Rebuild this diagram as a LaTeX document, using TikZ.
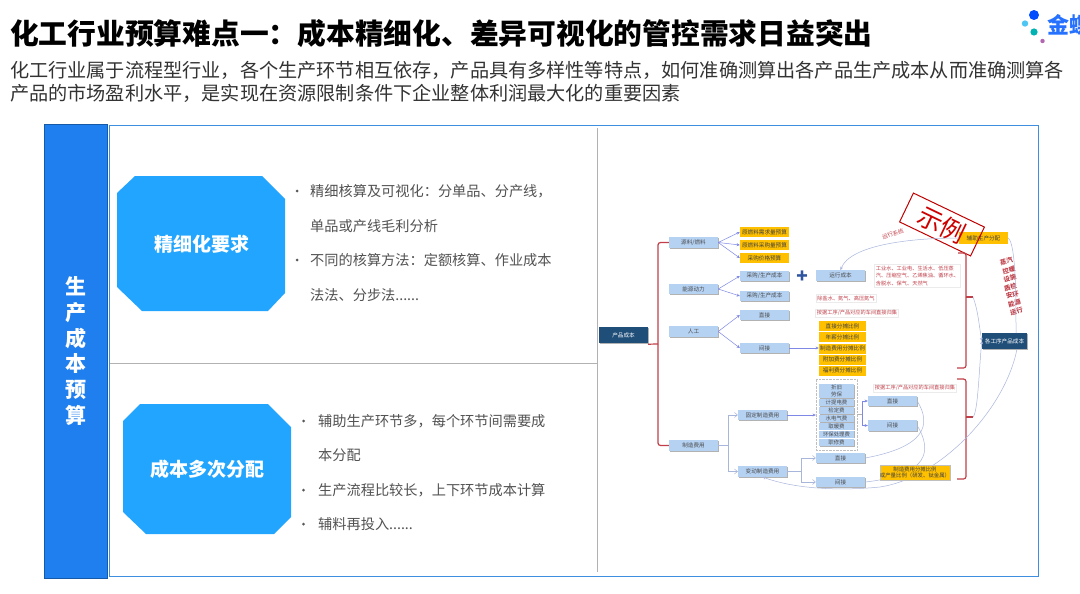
\documentclass[tikz,border=0pt]{standalone}
\usepackage{fontspec}
\setmainfont{Noto Sans CJK SC}
\usepackage{xcolor}
\usetikzlibrary{arrows.meta,shadows}
\definecolor{barblue}{HTML}{1F7FEE}
\definecolor{framblue}{HTML}{3F8FE0}
\definecolor{octblue}{HTML}{22A5FF}
\definecolor{paleblue}{HTML}{B5D2F3}
\definecolor{navyblue}{HTML}{1F4E79}
\definecolor{ambery}{HTML}{FFC000}
\definecolor{brickred}{HTML}{C0404A}
\definecolor{linkblue}{HTML}{A9B6DC}
\definecolor{plusblue}{HTML}{2F55A0}
\newcommand{\fs}[1]{\fontsize{#1}{#1}\selectfont}
\newcommand{\sixdots}{.\kern0pt.\kern0pt.\kern0pt.\kern0pt.\kern0pt.}

\begin{document}
\begin{tikzpicture}[
  x=1pt, y=-1pt,
  >={Stealth[length=3.2pt,width=3pt]},
  bluebox/.style={
    rectangle, fill=paleblue, inner sep=0pt, text=black!70,
    minimum width=49pt, minimum height=10.5pt, font=\fs{5.6},
    drop shadow={shadow xshift=0.7pt,shadow yshift=-0.9pt,fill=black!60,opacity=.5}
  },
  feebox/.style={bluebox, minimum width=35pt, minimum height=7pt, font=\fs{5.4}},
  navybox/.style={
    rectangle, fill=navyblue, inner sep=0pt, text=white, font=\fs{5.6},
    drop shadow={shadow xshift=0.7pt,shadow yshift=-0.9pt,fill=black!60,opacity=.5}
  },
  ambbox/.style={
    rectangle, fill=ambery, inner sep=0pt, text=black!75,
    minimum width=49pt, minimum height=10pt, font=\fs{5.6}
  },
  ratbox/.style={ambbox, minimum width=47pt},
  redbox/.style={
    rectangle, draw=black!8, fill=white, inner sep=1.5pt, text=brickred,
    font=\fontsize{5.2}{7.6}\selectfont, align=left
  },
  octfill/.style={fill=octblue},
  octtext/.style={inner sep=0pt, text=white, font=\fs{19}\bfseries},
  note/.style={anchor=west, inner sep=0pt, text=black!68, font=\fs{14.2}},
  tree/.style={->, line width=0.5pt, color=linkblue!75!blue},
  elbow/.style={-{Straight Barb[length=3pt,width=5pt]}, line width=0.5pt, color=linkblue},
  loopy/.style={line width=0.5pt, color=linkblue},
  brace/.style={line width=1.2pt, color=brickred, rounded corners=2.5pt}
]
\useasboundingbox (0,0) rectangle (1080,594);
\fill[white] (0,0) rectangle (1080,594);

% Title and intro
\node[anchor=west, inner sep=0pt, font=\fs{28.75}\bfseries] (title) at (10,34)
  {化工行业预算难点一：成本精细化、差异可视化的管控需求日益突出};
\node[anchor=west, inner sep=0pt, text=black!80, font=\fs{19.16}] (introa) at (10,70)
  {化工行业属于流程型行业，各个生产环节相互依存，产品具有多样性等特点，如何准确测算出各产品生产成本从而准确测算各};
\node[anchor=west, inner sep=0pt, text=black!80, font=\fs{19.16}] (introb) at (10,93)
  {产品的市场盈利水平，是实现在资源限制条件下企业整体利润最大化的重要因素};

% Logo
\fill[blue!70!cyan] (1034,15) circle (5);
\fill[cyan!70!white] (1025,23.5) circle (3.2);
\fill[teal!60!cyan] (1034,32) circle (3.6);
\fill[violet!60] (1042.5,41) circle (2.2);
\node[anchor=west, inner sep=0pt, text=blue!65!cyan!85, font=\fs{22}\bfseries] (logo) at (1047,25) {金蝶};

% Frame and side bar
\node[rectangle, draw=framblue, line width=1pt, fill=white, minimum width=929pt,
  minimum height=451pt, inner sep=0pt] (frame) at (573.5,350.5) {};
\node[rectangle, draw=barblue!70!black, line width=0.6pt, fill=barblue, minimum width=63pt,
  minimum height=454pt, inner sep=0pt, text=white, align=center,
  font=\fontsize{21}{25.8}\selectfont\bfseries] (bar) at (75.5,351)
  {生\\产\\成\\本\\预\\算};
\draw[black!30, line width=0.7pt] (597,128) -- (597,572);
\draw[black!30, line width=0.7pt] (110,363) -- (597,363);

% Left column
\fill[octfill] (135,176) -- (262,176) -- (285,199) -- (285,293) -- (268,311)
  -- (142,311) -- (117,287) -- (117,193) -- cycle;
\node[octtext] (fine) at (201.5,244) {精细化要求};
\fill[octfill] (140,404) -- (268,404) -- (291,427) -- (291,517) -- (274,534)
  -- (146,534) -- (123,512) -- (123,421) -- cycle;
\node[octtext] (multi) at (207,469.5) {成本多次分配};
\foreach \yy/\txt in {191/精细核算及可视化：分单品、分产线，, 226/单品或产线毛利分析,
    260/不同的核算方法：定额核算、作业成本, 295/法法、分步法\sixdots} {
  \node[note] at (310,\yy) {\txt};
}
\foreach \yy/\txt in {421/辅助生产环节多，每个环节间需要成, 455/本分配,
    490/生产流程比较长，上下环节成本计算, 524/辅料再投入\sixdots} {
  \node[note] at (318,\yy) {\txt};
}
\foreach \yy in {191,260} { \fill[black!65] (297,\yy) circle (1.5); }
\foreach \yy in {421,490,524} { \fill[black!65] (303.5,\yy) circle (1.5); }

% Cost tree, first level
\node[navybox, minimum width=49pt, minimum height=16pt] (cost) at (623.5,335) {产品成本};
\node[bluebox] (raw) at (693.5,242.5) {源料/燃料};
\node[bluebox] (energy) at (693.5,289) {能源动力};
\node[bluebox] (labor) at (693.5,331.5) {人工};
\node[bluebox] (mfg) at (693.5,445.5) {制造费用};

% Second level
\node[ambbox] (rawa) at (764.5,232) {原燃料需求量预算};
\node[ambbox] (rawb) at (764.5,245) {原燃料采购量预算};
\node[ambbox] (rawc) at (764.5,258) {采购价格预算};
\node[bluebox] (buya) at (764.5,276) {采购/生产成本};
\node[bluebox] (buyb) at (764.5,296) {采购/生产成本};
\node[bluebox] (direct) at (764.5,315) {直接};
\node[bluebox] (indirect) at (764.5,348) {间接};
\node[bluebox] (fixed) at (762.5,415) {固定制造费用};
\node[bluebox] (vary) at (762.5,471.5) {变动制造费用};

% Third level
\node[text=plusblue, font=\fs{12}\bfseries, inner sep=0pt] (plus) at (802,276) {✚};
\node[bluebox] (run) at (840.5,275.5) {运行成本};
\node[redbox] (utils) at (917.5,276)
  {工业水、工业电、生活水、低压蒸\\汽、压缩空气、乙烯焦油、循环水、\\含脱水、保气、天然气};
\node[redbox] (salt) at (846,298.5) {除盐水、氮气、高压氮气};
\node[redbox] (rulea) at (857,313) {按据工序/产品对应的车间直接归集};
\foreach \nm/\yy/\txt in {rata/326/直接分摊比例, ratb/337/年薪分摊比例, ratc/348.5/制造费用分摊比例,
    ratd/359.5/附加费分摊比例, rate/370.5/福利费分摊比例} {
  \node[ratbox] (\nm) at (842.5,\yy) {\txt};
}

% Fixed fee list
\node[rectangle, draw=black!25, densely dotted, minimum width=41pt, minimum height=71pt,
  inner sep=0pt] (feegroup) at (836.5,414.5) {};
\foreach \nm/\yy/\txt in {feea/387.3/折旧, feeb/394.8/劳保, feec/402.3/计提电费, feed/410.3/检定费,
    feee/418.3/水电气费, feef/426/取暖费, feeg/434/环保处理费, feeh/442.3/职修费} {
  \node[feebox] (\nm) at (836.5,\yy) {\txt};
}
\node[redbox] (ruleb) at (915,388) {按据工序/产品对应的车间直接归集};
\node[bluebox] (fixdir) at (892.5,401) {直接};
\node[bluebox] (fixind) at (892.5,425.5) {间接};
\node[bluebox] (vardir) at (840.5,458) {直接};
\node[bluebox] (varind) at (840.5,482) {间接};

% Right side
\node[ambbox, minimum height=12pt] (assist) at (983.5,238) {辅助生产分配};
\node[navybox, minimum width=45pt, minimum height=16pt] (final) at (1004.5,341) {各工序产品成本};
\node[inner sep=0pt, text=brickred, rotate=20, font=\fs{5.6}] (runsys) at (893,234) {运行系统};
\foreach \nm/\xx/\yy/\txt in {wa/1006.5/261.5/蒸汽, wb/1009/270/控暖, wc/1010/278.5/设施, wd/1010.5/287/质检,
    we/1012.5/295/安环, wf/1014.5/303.5/能源, wg/1016.5/311.5/运行} {
  \node[inner sep=0pt, text=brickred, rotate=15, font=\fontsize{6.4}{6.4}\selectfont\bfseries] (\nm) at (\xx,\yy) {\txt};
}

% Stamp
\node[rectangle, draw=red!75!black, line width=1pt, rotate=-25.6, minimum width=78.7pt,
  minimum height=32pt, inner sep=0pt, text=red!80!black, font=\fs{25}] (stamp) at (942,224.5) {示例};

% Red braces
\coordinate (brcost) at (658,344);
\coordinate (brupa) at (958,253);
\coordinate (brupb) at (957,368);
\coordinate (brupc) at (966,297);
\coordinate (brloa) at (957,379);
\coordinate (brlob) at (957,479);
\coordinate (brloc) at (966,417);
\draw[brace] (raw.west) -| (brcost);
\draw[brace] (mfg.west) -| (brcost);
\draw[brace, rounded corners=0pt] (cost.south east) ++(0,1) -- (brcost);
\draw[brace] (brupa) -| (brupc);
\draw[brace] (brupb) -| (brupc);
\draw[brace, rounded corners=0pt] (brupc) -- ++(7,0) coordinate (tipup);
\draw[brace] (brloa) -| (brloc);
\draw[brace] (brlob) -| (brloc);
\draw[brace, rounded corners=0pt] (brloc) -- ++(7,0) coordinate (tiplo);

% Tree links
\foreach \a/\b in {raw/rawa, raw/rawb, raw/rawc, energy/buya, energy/buyb, labor/direct, labor/indirect} {
  \draw[tree] (\a.east) -- (\b.west);
}
\draw[tree] (indirect.east) -- (rata.west |- indirect.east);
\draw[tree] (fixed.east) -- (feegroup.west |- fixed.east);
\draw[elbow] (mfg.east) -- ++(10,0) |- (fixed.west);
\draw[elbow] (mfg.east) -- ++(10,0) |- (vary.west);
\draw[elbow] (vary.east) -- ++(14,0) |- (vardir.west);
\draw[elbow] (vary.east) -- ++(14,0) |- (varind.west);
\draw[black!30, line width=0.5pt] (feegroup.east) -- ++(5.5,0) coordinate (feejoin);
\draw[tree] (feejoin) |- (fixdir.west);
\draw[tree] (feejoin) |- (fixind.west);

% Long curves
\coordinate (finaltop) at (1016,333);
\coordinate (finalbot) at (1017,349);
\draw[loopy, ->] (assist.west) .. controls (910,238) and (850,245) .. (run.north);
\draw[loopy] (assist.east) .. controls (1016,244) and (1016,300) .. (finaltop);
\draw[loopy, ->] (tipup) .. controls (978,310) and (979,325) .. (final.west);
\draw[loopy, ->] (tiplo) .. controls (978,412) and (979,370) .. (final.west);
\draw[loopy] (fixdir.east) .. controls (932,425) and (925,447) .. (vardir.east);
\draw[loopy] (fixind.east) .. controls (932,450) and (930,475) .. (varind.east);
\draw[loopy, ->] (finalbot) .. controls (1005,410) and (940,478) .. (880,487)
  .. controls (840,491) and (795,489) .. (vary.south);

% Yellow note sits over the curves
\node[ambbox, draw=black!25, line width=0.3pt, minimum width=66pt, minimum height=15pt, align=center,
  font=\fontsize{5.4}{6.8}\selectfont] (ratio) at (915,472.5)
  {制造费用分摊比例\\或产量比例（研发、钛金属）};
\end{tikzpicture}
\end{document}
